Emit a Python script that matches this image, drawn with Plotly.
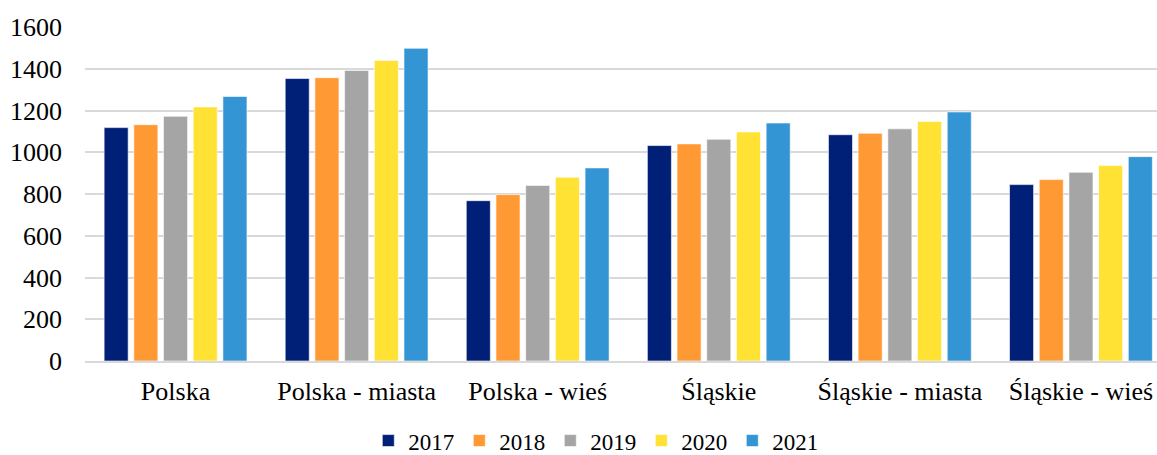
import plotly.graph_objects as go

categories = ["Polska", "Polska - miasta", "Polska - wieś", "Śląskie", "Śląskie - miasta", "Śląskie - wieś"]
years = ["2017", "2018", "2019", "2020", "2021"]
v2017 = [1118, 1353, 768, 1032, 1084, 845]
v2018 = [1132, 1357, 797, 1040, 1091, 869]
v2019 = [1172, 1392, 841, 1062, 1112, 904]
v2020 = [1217, 1440, 880, 1097, 1147, 936]
v2021 = [1267, 1498, 925, 1140, 1193, 979]
series = [v2017, v2018, v2019, v2020, v2021]
colors = ["#001F77", "#FF9933", "#A5A5A5", "#FFE234", "#3395D4"]

SERIF = "Liberation Serif, Times New Roman, serif"

fig = go.Figure()
for y, vals, c in zip(years, series, colors):
    fig.add_trace(go.Bar(x=list(range(len(categories))), y=vals, name=y,
                         marker=dict(color=c, line=dict(color="white", width=0.6))))

fig.update_layout(
    width=1157, height=455,
    barmode="group", bargap=0.18, bargroupgap=0.19,
    plot_bgcolor="white", paper_bgcolor="white",
    margin=dict(l=85, r=0, t=27, b=94, autoexpand=False),
    font=dict(family=SERIF, color="#000000", size=24),
    legend=dict(orientation="h", x=0.4765, xanchor="center", y=-0.174, yanchor="top",
                font=dict(family=SERIF, size=23), itemwidth=30, traceorder="normal"),
    showlegend=True,
)
fig.update_xaxes(tickmode="array", tickvals=list(range(len(categories))), ticktext=categories,
                 range=[-0.5, 5.42], showgrid=False, showline=True, linecolor="#D9D9D9",
                 linewidth=2, ticks="", tickfont=dict(family=SERIF, size=26),
                 ticklabelstandoff=6, automargin=False)
fig.update_yaxes(range=[0, 1600], dtick=200, showgrid=True, gridcolor="#D9D9D9", gridwidth=1.5,
                 zeroline=False, showline=False, ticks="", tickfont=dict(family=SERIF, size=26),
                 ticklabelstandoff=22, automargin=False)

fig.write_html(
    "out.html",
    config={"displayModeBar": False},
    post_script="document.body.style.margin='0';document.body.style.overflow='hidden';"
                "document.documentElement.style.overflow='hidden';",
)
